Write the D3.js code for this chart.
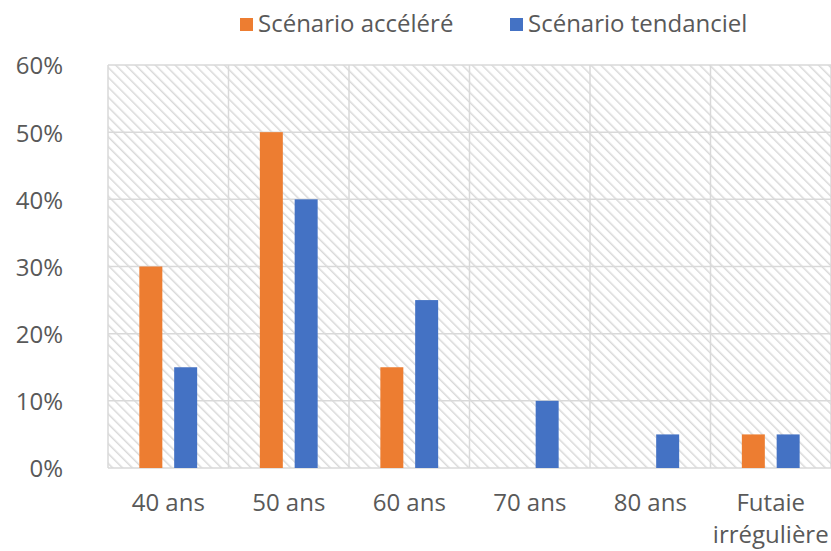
<!DOCTYPE html>
<html><head><meta charset="utf-8">
<script src="https://cdn.jsdelivr.net/npm/d3@7"></script>
<style>body{margin:0;background:#fff}svg{display:block}text{font-family:"Open Sans",sans-serif;fill:#595959}</style>
</head><body><svg id="c" width="831" height="551"></svg>
<script>
const categories = ["40 ans","50 ans","60 ans","70 ans","80 ans","Futaie irrégulière"];
const seriesNames = ["Scénario accéléré","Scénario tendanciel"];
const accelere = [0.30,0.50,0.15,0,0,0.05];
const tendanciel = [0.15,0.40,0.25,0.10,0.05,0.05];
const yTicks = [0,0.1,0.2,0.3,0.4,0.5,0.6];
const colors = ["#ED7D31","#4472C4"];

(function(){
const svg = d3.select("#c");
const pl=108, pr=831, pt=65, pb=468;
const x = d3.scaleBand().domain(categories).range([pl,pr]).paddingInner(0).paddingOuter(0);
const y = d3.scaleLinear().domain([0,0.6]).range([pb,pt]);

const defs = svg.append("defs");
const pat = defs.append("pattern").attr("id","hatch").attr("patternUnits","userSpaceOnUse")
  .attr("width",7).attr("height",7).attr("patternTransform","rotate(-45)");
pat.append("rect").attr("width",7).attr("height",7).attr("fill","#fff");
pat.append("line").attr("x1",0).attr("y1",0).attr("x2",0).attr("y2",7).attr("stroke","#d9d9d9").attr("stroke-width",3);

svg.append("rect").attr("x",pl).attr("y",pt).attr("width",pr-pl).attr("height",pb-pt).attr("fill","url(#hatch)");

svg.append("g").selectAll("line").data(yTicks).join("line")
  .attr("x1",pl).attr("x2",pr).attr("y1",d=>y(d)).attr("y2",d=>y(d))
  .attr("stroke","#d9d9d9").attr("stroke-width",1.5);
const bounds = categories.map(c=>x(c)).concat([pr]);
svg.append("g").selectAll("line").data(bounds).join("line")
  .attr("x1",d=>d).attr("x2",d=>d)
  .attr("y1",pt).attr("y2",pb).attr("stroke","#d9d9d9").attr("stroke-width",1.5);

const inner = d3.scaleBand().domain([0,1]).range([0,x.bandwidth()]).paddingInner(0.34).paddingOuter(0.9);
[accelere,tendanciel].forEach((vals,s)=>{
  svg.append("g").selectAll("rect").data(vals).join("rect")
    .attr("x",(d,i)=>x(categories[i])+inner(s))
    .attr("width",inner.bandwidth())
    .attr("y",d=>y(d)).attr("height",d=>y(0)-y(d))
    .attr("fill",colors[s]);
});

svg.append("g").selectAll("text").data(yTicks).join("text")
  .attr("x",63).attr("y",d=>y(d)+1).attr("dy","0.35em").attr("text-anchor","end")
  .attr("font-size",24).text(d=>d3.format(".0%")(d));

const xl = svg.append("g");
categories.forEach(c=>{
  const words = c==="Futaie irrégulière" ? ["Futaie","irrégulière"] : [c];
  const cx = x(c)+x.bandwidth()/2;
  const t = xl.append("text").attr("x",cx).attr("y",511).attr("text-anchor","middle").attr("font-size",24);
  words.forEach((w,i)=>t.append("tspan").attr("x",cx).attr("dy",i?32:0).text(w));
});

const lgx = [240,510];
seriesNames.forEach((n,i)=>{
  svg.append("rect").attr("x",lgx[i]).attr("y",18).attr("width",13).attr("height",13).attr("fill",colors[i]);
  svg.append("text").attr("x",lgx[i]+18).attr("y",32).attr("font-size",24).text(n);
});
})();
</script></body></html>
